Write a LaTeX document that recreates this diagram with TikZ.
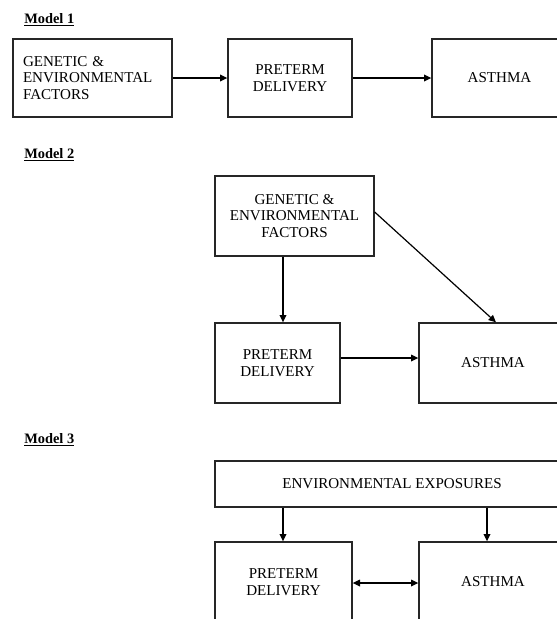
\documentclass[tikz,border=0pt]{standalone}
\usepackage{fontspec}
\setmainfont{Liberation Serif}
\usetikzlibrary{arrows.meta}
\def\pxu{0.75pt}
\tikzset{
  box/.style={draw=black!85, line width=1pt, rectangle, inner sep=0pt, align=center,
    font=\fontsize{11.3}{12.5}\selectfont},
  arr/.style={draw=black, line width=0.9pt, -{Triangle[length=5.5pt,width=5pt]}},
  darr/.style={draw=black, line width=0.9pt, {Triangle[length=5.5pt,width=5pt]}-{Triangle[length=5.5pt,width=5pt]}},
  mlabel/.style={anchor=base west, inner sep=0pt, font=\fontsize{10.8}{12}\selectfont\bfseries}
}
\begin{document}
\begin{tikzpicture}[x=0.75pt,y=-0.75pt]
\clip (0,0) rectangle (557,619);
\useasboundingbox (0,0) rectangle (557,619);
% labels
\node[mlabel] (m1) at (24,23) {\underline{Model 1}};
\node[mlabel] (m2) at (24,158) {\underline{Model 2}};
\node[mlabel] (m3) at (24,443) {\underline{Model 3}};
% Model 1
\node[box, minimum width=159*\pxu, minimum height=78*\pxu, text width=139*\pxu, align=left, inner xsep=10*\pxu] (g1) at (92.5,78) {GENETIC \&\\ENVIRONMENTAL\\FACTORS};
\node[box, minimum width=124*\pxu, minimum height=78*\pxu] (p1) at (290,78) {PRETERM\\DELIVERY};
\node[box, minimum width=135*\pxu, minimum height=78*\pxu] (a1) at (499.5,78) {ASTHMA};
\draw[arr] (g1.east) -- (p1.west);
\draw[arr] (p1.east) -- (a1.west);
% Model 2
\node[box, minimum width=159*\pxu, minimum height=80*\pxu] (g2) at (294.5,216) {GENETIC \&\\ENVIRONMENTAL\\FACTORS};
\node[box, minimum width=125*\pxu, minimum height=80*\pxu] (p2) at (277.5,363) {PRETERM\\DELIVERY};
\node[box, minimum width=148*\pxu, minimum height=80*\pxu] (a2) at (493,363) {ASTHMA};
\coordinate (cx1) at (283,0);
\coordinate (cy1) at (0,358);
\coordinate (ge) at (374,212);
\coordinate (an) at (496,323);
\draw[arr] (g2.south -| cx1) -- (p2.north -| cx1);
\draw[arr] (p2.east |- cy1) -- (a2.west |- cy1);
\draw[arr] (g2.east |- ge) -- (a2.north -| an);
% Model 3
\node[box, minimum width=354*\pxu, minimum height=46*\pxu] (e3) at (392,484) {ENVIRONMENTAL EXPOSURES};
\node[box, minimum width=137*\pxu, minimum height=80*\pxu] (p3) at (283.5,582) {PRETERM\\DELIVERY};
\node[box, minimum width=148*\pxu, minimum height=80*\pxu] (a3) at (493,582) {ASTHMA};
\coordinate (cx2) at (283,0);
\coordinate (cx3) at (487,0);
\coordinate (cy3) at (0,583);
\draw[arr] (e3.south -| cx2) -- (p3.north -| cx2);
\draw[arr] (e3.south -| cx3) -- (a3.north -| cx3);
\draw[darr] (p3.east |- cy3) -- (a3.west |- cy3);
\end{tikzpicture}
\end{document}
